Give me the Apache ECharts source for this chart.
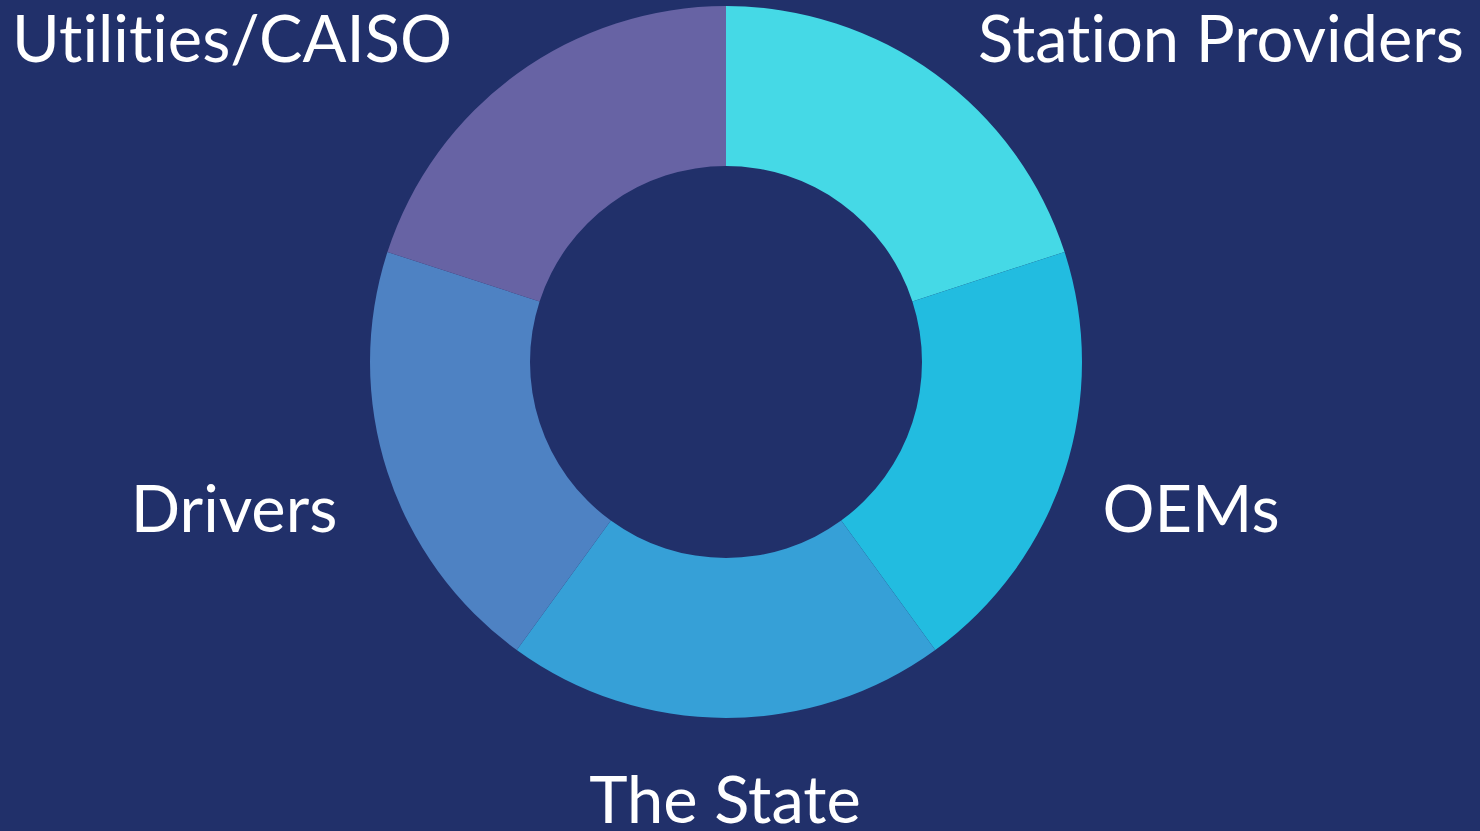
<!DOCTYPE html>
<html>
<head>
<meta charset="utf-8">
<script src="https://cdn.jsdelivr.net/npm/echarts@6/dist/echarts.min.js"></script>
<style>
  html, body { margin: 0; padding: 0; background: #21306a; }
  #main { width: 1480px; height: 831px; }
  #main text { font-variant-ligatures: none; font-feature-settings: "liga" 0; }
</style>
</head>
<body>
<div id="main"></div>
<script>
// slices, clockwise from 12 o'clock
var names = ['Station Providers', 'OEMs', 'The State', 'Drivers', 'Utilities/CAISO'];
var values = [1, 1, 1, 1, 1];
var colors = ['#45d9e6', '#22bce0', '#36a0d7', '#4e82c3', '#6763a4'];

// where each label sits (centre of text)
var labelPos = [[1221, 37], [1191, 507], [725, 798], [234, 507], [232, 37]];

var pieData = names.map(function (n, i) {
  return { name: n, value: values[i], itemStyle: { color: colors[i] } };
});

var chart = echarts.init(document.getElementById('main'), null, { renderer: 'svg' });
chart.setOption({
  backgroundColor: '#21306a',
  animation: false,
  series: [{
    type: 'pie',
    center: [726, 362],
    radius: [196, 356],
    startAngle: 90,
    clockwise: true,
    data: pieData,
    label: {
      show: true,
      position: 'outside',
      color: '#ffffff',
      fontFamily: 'Lato',
      fontSize: 65,
      formatter: '{b}'
    },
    labelLine: { show: false },
    labelLayout: function (p) {
      var pos = labelPos[p.dataIndex];
      return { x: pos[0], y: pos[1], align: 'center', verticalAlign: 'middle' };
    }
  }]
});
</script>
</body>
</html>
